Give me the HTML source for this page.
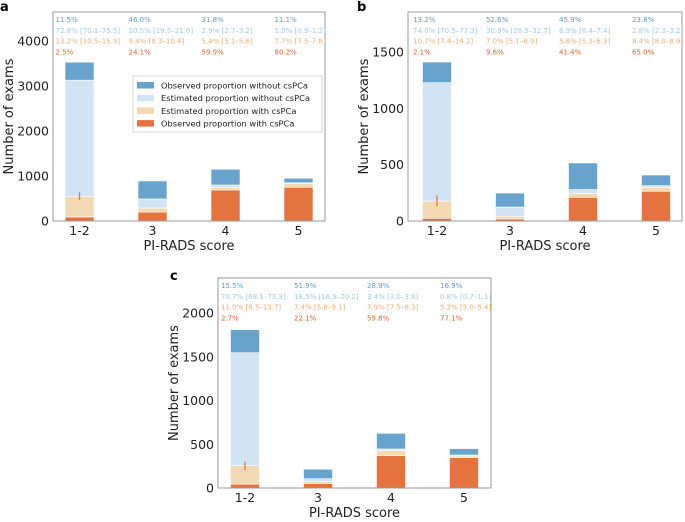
<!DOCTYPE html>
<html><head><meta charset="utf-8"><style>
body{margin:0;background:#fff;}
svg text{font-family:"DejaVu Sans","Liberation Sans",sans-serif;}
</style></head><body>
<svg id="chart" width="685" height="517" viewBox="0 0 685 517" xmlns="http://www.w3.org/2000/svg"></svg>
<script>
const categories = ["1-2","3","4","5"];
// panel a segment values (exams)
const aObsWith = [90, 200, 690, 750];
const aEstWith = [450, 90, 60, 80];
const aEstWithout = [2590, 200, 50, 20];
const aObsWithout = [400, 400, 350, 100];
const aErr = [[466, 635]];
const aTicks = [0, 1000, 2000, 3000, 4000];
const aLabels = [["11.5%","46.0%","31.8%","11.1%"],["72.8% [70.1–75.5]","20.5% [19.5–21.6]","2.9% [2.7–3.2]","1.0% [0.9–1.2]"],["13.2% [10.5–15.9]","9.4% [8.3–10.4]","5.4% [5.1–5.6]","7.7% [7.5–7.8]"],["2.5%","24.1%","59.9%","80.2%"]];
// panel b
const bObsWith = [24, 18, 210, 264];
const bEstWith = [153, 24, 33, 35];
const bEstWithout = [1051, 82, 36, 15];
const bObsWithout = [183, 124, 236, 94];
const bErr = [[130, 227]];
const bTicks = [0, 500, 1000, 1500];
const bLabels = [["13.2%","52.6%","45.9%","23.8%"],["74.0% [70.5–77.3]","30.9% [28.9–32.7]","6.9% [6.4–7.4]","2.8% [2.3–3.2]"],["10.7% [7.4–14.2]","7.0% [5.1–8.9]","5.8% [5.3–6.3]","8.4% [8.0–8.9]"],["2.1%","9.6%","41.4%","65.0%"]];
// panel c
const cObsWith = [45, 50, 370, 347];
const cEstWith = [210, 22, 57, 19];
const cEstWithout = [1291, 34, 19, 11];
const cObsWithout = [264, 109, 179, 73];
const cErr = [[205, 300]];
const cTicks = [0, 500, 1000, 1500, 2000];
const cLabels = [["15.5%","51.9%","28.9%","16.9%"],["70.7% [68.1–73.3]","18.5% [16.9–20.2]","3.4% [3.0–3.8]","0.8% [0.7–1.1]"],["11.0% [8.5–13.7]","7.4% [5.8–9.1]","7.9% [7.5–8.3]","5.2% [5.0–5.4]"],["2.7%","22.1%","59.8%","77.1%"]];

const COLORS = ["#e5733f", "#f3d9b2", "#d1e4f3", "#67a3cc"];
const TXT = ["#5b9ccb", "#9fcbe6", "#f3ad74", "#e2622c"];
const NS = "http://www.w3.org/2000/svg";
const svg = document.getElementById("chart");
function mk(tag, attrs, parent) {
  const e = document.createElementNS(NS, tag);
  for (const k in attrs) e.setAttribute(k, attrs[k]);
  (parent || svg).appendChild(e);
  return e;
}

function panel(id, letter, letterPos, box, yMax, ticks, segs, err, labels, c0, legend) {
  const g = mk("g", {});
  
  
  const [L, T, R, B] = box;
  const y = v => B - v / yMax * (B - T);
  const x = i => c0 + i * 73;
  const lt = mk("text", {x: letterPos[0], y: letterPos[1], "font-size": 13, "font-weight": "bold", fill: "#000"}, g);
  lt.textContent = letter;
  
  
  // bars
  categories.forEach((cat, i) => {
    let base = 0;
    segs.forEach((arr, s) => {
      const v = arr[i];
      const r = mk("rect", {x: x(i) - 14.5, y: y(base + v), width: 29, height: Math.max(0, y(base) - y(base + v)), fill: COLORS[s], stroke: "#fff", "stroke-width": 0.6}, g);
      
      
      base += v;
    });
  });
  err.forEach((e, i) => {
    const l = mk("line", {x1: x(i), x2: x(i), y1: y(e[0]), y2: y(e[1]), stroke: "#e5733f", "stroke-width": 1.3}, g);
    
    
  });
  // frame
  const f = mk("rect", {x: L, y: T, width: R - L, height: B - T, fill: "none", stroke: "#999", "stroke-width": 1}, g);
  
  
  ticks.forEach(t => {
    const tx = mk("text", {x: L - 4, y: y(t) + 4.5, "font-size": 12.5, fill: "#222", "text-anchor": "end"}, g);
    tx.textContent = t;
    
    
  });
  categories.forEach((cat, i) => {
    const tx = mk("text", {x: x(i), y: B + 14, "font-size": 12.5, fill: "#222", "text-anchor": "middle"}, g);
    tx.textContent = cat;
    
    
  });
  const xl = mk("text", {x: (L + R) / 2, y: B + 29, "font-size": 13, fill: "#222", "text-anchor": "middle"}, g);
  xl.textContent = "PI-RADS score";
  
  
  const yc = (T + B) / 2, yx = L - 40;
  const yl = mk("text", {x: yx, y: yc, "font-size": 13, fill: "#222", "text-anchor": "middle", transform: `rotate(-90 ${yx} ${yc})`}, g);
  yl.textContent = "Number of exams";
  
  
  labels.forEach((row, r) => row.forEach((s, i) => {
    const tx = mk("text", {x: x(i) - 24, y: T + 10 + r * 10.8, "font-size": 7, fill: TXT[r]}, g);
    tx.textContent = s;
    
    
  }));
  if (legend) {
    const lg = mk("g", {}, g);
    
    
    mk("rect", {x: 133, y: 76, width: 189, height: 56, fill: "#fff", stroke: "#ccc", "stroke-width": 0.8}, lg);
    const names = ["Observed proportion without csPCa", "Estimated proportion without csPCa", "Estimated proportion with csPCa", "Observed proportion with csPCa"];
    const cols = [COLORS[3], COLORS[2], COLORS[1], COLORS[0]];
    names.forEach((n, k) => {
      const ey = 82 + k * 12.7;
      const pr = mk("rect", {x: 137, y: ey, width: 17, height: 6.5, fill: cols[k]}, lg);
      
      
      const tx = mk("text", {x: 161, y: ey + 6.5, "font-size": 8.3, fill: "#222"}, lg);
      tx.textContent = n;
      
      
    });
  }
}

panel("a", "a", [0, 11], [53, 12, 325, 221], 4645, aTicks, [aObsWith, aEstWith, aEstWithout, aObsWithout], aErr, aLabels, 79.5, true);
panel("b", "b", [357, 11], [408, 12, 682, 221], 1855, bTicks, [bObsWith, bEstWith, bEstWithout, bObsWithout], bErr, bLabels, 437, false);
panel("c", "c", [170, 280], [218, 278, 491, 488], 2400, cTicks, [cObsWith, cEstWith, cEstWithout, cObsWithout], cErr, cLabels, 245, false);
</script>
</body></html>
